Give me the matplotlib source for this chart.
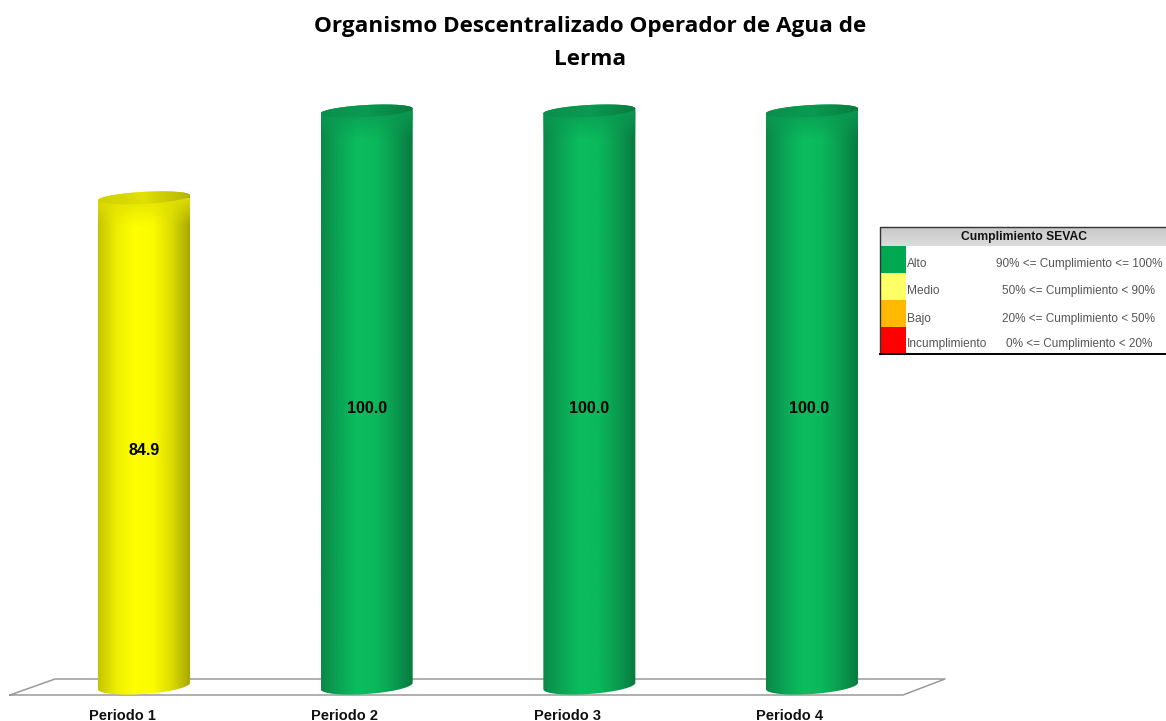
import numpy as np
import matplotlib
matplotlib.use('Agg')
import matplotlib.pyplot as plt
from matplotlib.colors import LinearSegmentedColormap, to_rgb
from matplotlib.patches import PathPatch, Rectangle
from matplotlib.path import Path

title = 'Organismo Descentralizado Operador de Agua de\nLerma'
periods = ['Periodo 1', 'Periodo 2', 'Periodo 3', 'Periodo 4']
values = [84.9, 100.0, 100.0, 100.0]
bar_kinds = ['yellow', 'green', 'green', 'green']

legend_title = 'Cumplimiento SEVAC'
legend_names = ['Alto', 'Medio', 'Bajo', 'Incumplimiento']
legend_ranges = ['90% <= Cumplimiento <= 100%',
                 '50% <= Cumplimiento < 90%',
                 '20% <= Cumplimiento < 50%',
                 '0% <= Cumplimiento < 20%']
legend_colors = ['#00a84f', '#ffff66', '#ffb900', '#ff0000']

body = {'green': ['#0a8846', '#0aa656', '#0bbd5f', '#0bb85c', '#0a9c50', '#087a3f'],
        'yellow': ['#c4c400', '#eeee00', '#ffff00', '#fcfc00', '#dcdc00', '#a8a800']}
cap = {'green': ['#0a8f4c', '#0a9a52', '#087c40'],
       'yellow': ['#d0d000', '#e0e000', '#b4b400']}

W, H = 1166, 721
# one bar step is 222.67 px, one value unit is 5.75 px
sx, sy = 222.67, 5.75
x0_px, y0_px = 144, 686


def px(x, y):
    return (x - x0_px) / sx, (y0_px - y) / sy


fig = plt.figure(figsize=(W / 100, H / 100), dpi=100, facecolor='white')
ax = fig.add_axes([0, 0, 1, 1])
ax.axis('off')

# floor
floor = np.array([px(10, 695), px(55, 679), px(945, 679), px(903, 695), px(10, 695)])
ax.plot(floor[:, 0], floor[:, 1], color='#9a9a9a', lw=1.1, zorder=1)

xs = np.arange(len(values))
bars = ax.bar(xs, values, width=92 / sx, color='none', zorder=2)

a = 46 / sx
b_low, tilt_low = 8 / sy, 3.2 / sy
b_top, tilt_top = 6 / sy, 2.5 / sy
t = np.linspace(0, 2 * np.pi, 80)
label_dx = [0, 0, 0, -3]

for rect, kind, dx in zip(bars, bar_kinds, label_dx):
    cx = rect.get_x() + rect.get_width() / 2
    top = rect.get_height()
    ex = np.cos(t)
    ey = np.sin(t)

    # outline of the cylinder: lower half of the base, then upper half of the top
    tt = np.linspace(np.pi, 2 * np.pi, 40)
    low = np.c_[cx + a * np.cos(tt), b_low * np.sin(tt) + tilt_low * np.cos(tt)]
    tt = np.linspace(0, np.pi, 40)
    upp = np.c_[cx + a * np.cos(tt), top + b_top * np.sin(tt) + tilt_top * np.cos(tt)]
    verts = np.vstack([low, upp, low[:1]])
    shape = PathPatch(Path(verts), fc='none', ec='none', transform=ax.transData)
    ax.add_patch(shape)
    cmap = LinearSegmentedColormap.from_list(kind, body[kind])
    im = ax.imshow(np.linspace(0, 1, 200)[None, :], cmap=cmap, aspect='auto', zorder=3,
                   extent=[cx - a, cx + a, -2 * b_low, top + 2 * b_top], interpolation='bilinear')
    im.set_clip_path(shape)

    # darker band that fades out under the top face
    fade = np.zeros((60, 2, 4))
    fade[..., :3] = to_rgb(cap[kind][1])
    fade[..., 3] = np.linspace(0.9, 0, 60)[:, None]
    im3 = ax.imshow(fade, aspect='auto', zorder=3.5, interpolation='bilinear',
                    extent=[cx - a, cx + a, top - 28 / sy, top])
    im3.set_clip_path(shape)

    # top face
    face = PathPatch(Path(np.c_[cx + a * ex, top + b_top * ey + tilt_top * ex]),
                     fc='none', ec='none', transform=ax.transData)
    ax.add_patch(face)
    cmap2 = LinearSegmentedColormap.from_list(kind + 'cap', cap[kind])
    im2 = ax.imshow(np.linspace(0, 1, 100)[None, :], cmap=cmap2, aspect='auto', zorder=4,
                    extent=[cx - a, cx + a, top - 2 * b_top, top + 2 * b_top], interpolation='bilinear')
    im2.set_clip_path(face)

    ax.text(cx + dx / sx, top * 0.485 - 1.5 / sy, f'{top:.1f}', ha='center', va='center',
            fontsize=11.5, fontweight='bold', family='Liberation Sans', color='black', zorder=6)

for x, name in zip(xs, periods):
    ax.text(x - 22 / sx, px(0, 715.5)[1], name, ha='center', va='center', fontsize=10.5,
            fontweight='bold', family='Liberation Sans', color='#111111')

ax.set_xlim(px(0, 0)[0], px(W, 0)[0])
ax.set_ylim(px(0, H)[1], px(0, 0)[1])

fig.text(590 / W, 1 - 43 / H, title, ha='center', va='center', fontsize=16.2,
         fontweight='bold', family='Open Sans', color='black', linespacing=1.72)

# legend, drawn in its own pixel axes
lg = fig.add_axes([0, 0, 1, 1])
lg.axis('off')
lg.patch.set_alpha(0)
top_y, head_h, row_h = 227, 19, 27
lg.imshow(np.linspace(0, 1, 30)[:, None],
          cmap=LinearSegmentedColormap.from_list('h', ['#c8c8c8', '#dcdcdc']),
          aspect='auto', extent=[880, W, top_y + head_h, top_y], zorder=1)
lg.text(1024, top_y + 10, legend_title, ha='center', va='center', fontsize=8.7,
        fontweight='bold', family='Liberation Sans', color='#111111', zorder=3)
text_y = [264, 291, 319, 343.5]
for i, (name, rng, c) in enumerate(zip(legend_names, legend_ranges, legend_colors)):
    y = top_y + head_h + i * row_h
    lg.add_patch(Rectangle((880, y), 25.5, row_h, fc=c, ec='none', zorder=2))
    lg.text(907, text_y[i], name, ha='left', va='center', fontsize=8.6,
            family='Liberation Sans', color='#555555')
    lg.text(1079, text_y[i], rng, ha='center', va='center', fontsize=8.5,
            family='Liberation Sans', color='#555555')
lg.plot([880, 880, W], [top_y + head_h + 4 * row_h, top_y, top_y], color='#333333', lw=1, zorder=4)
lg.plot([880, W], [top_y + head_h + 4 * row_h] * 2, color='black', lw=1.4, zorder=4)
lg.set_xlim(0, W)
lg.set_ylim(H, 0)

fig.savefig('out.png', dpi=100)
